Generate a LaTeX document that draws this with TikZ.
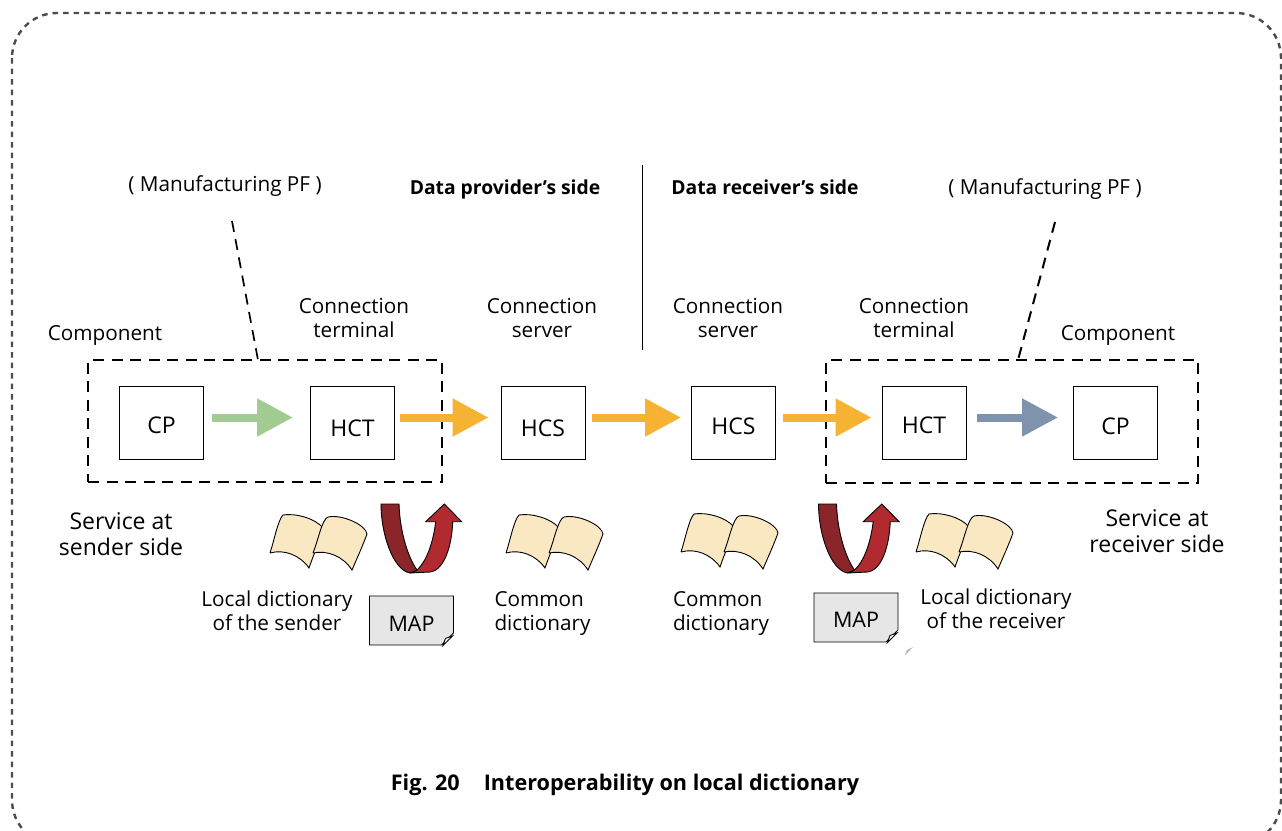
\documentclass[tikz,border=0pt]{standalone}
\usepackage{fontspec}
\setmainfont{Open Sans}
\usetikzlibrary{arrows.meta,shapes.misc}
\definecolor{pagecream}{HTML}{F9E8C2}
\definecolor{darkred}{HTML}{8A262A}
\definecolor{lightred}{HTML}{B02A30}
\definecolor{flowgreen}{HTML}{A2CB92}
\definecolor{floworange}{HTML}{F6B233}
\definecolor{flowblue}{HTML}{7F93AE}
\definecolor{mapgray}{HTML}{E6E6E6}
\tikzset{
    book/.pic={
        \draw[fill=pagecream,line width=.9pt] (0,0) .. controls (14,-4) and (30,2) .. (39,15)
            .. controls (43,3) and (49,-10) .. (53,-25) .. controls (45,-35) and (25,-40) .. (13,-38)
            .. controls (8,-33) and (4,-12) .. (0,0);
        \draw[fill=pagecream,line width=.9pt] (43,0) .. controls (57,-3) and (73,3) .. (82,17)
            .. controls (88,3) and (93,-8) .. (97,-19) .. controls (96,-28) and (72,-39) .. (58,-36)
            .. controls (52,-34) and (48,-12) .. (43,0);
    },
    uturn/.pic={
        \draw[fill=darkred,line width=.9pt] (0,0) -- (18,0) .. controls (19,30) and (28,55) .. (36,66)
            -- (29,69) .. controls (12,66) and (0,30) .. (0,0) -- cycle;
        \draw[fill=lightred,line width=.9pt] (29,69) -- (49,68) .. controls (64,66) and (71,40) .. (71.7,17.7)
            -- (80.7,17.7) -- (63.3,0) -- (44.7,17.7) -- (54.7,17.7) .. controls (52,40) and (45,58) .. (36,66)
            .. controls (34,68) and (31,69) .. (29,69) -- cycle;
    },
    fold/.pic={
        \draw[fill=white,line width=.9pt] (-9.5,0) -- (0,-9.5) -- (-7,-7) -- cycle;
    }
}
\begin{document}
\begin{tikzpicture}[x=1pt,y=-1pt,
    label node/.style={align=center,font=\fontsize{20.7}{24}\selectfont},
    left node/.style={align=left,font=\fontsize{20.7}{24}\selectfont},
    big node/.style={align=center,font=\fontsize{23}{26}\selectfont},
    bold node/.style={font=\fontsize{19.3}{24}\selectfont\bfseries},
    title node/.style={font=\fontsize{21.6}{24}\selectfont\bfseries},
    box/.style={draw,line width=.9pt,fill=white,minimum width=84pt,minimum height=73pt,inner sep=0pt,font=\fontsize{23}{24}\selectfont},
    dash box/.style={draw,line width=1.9pt,dash pattern=on 11pt off 7.5pt,inner sep=0pt},
    dash line/.style={line width=2pt,dash pattern=on 11pt off 7.5pt},
    map node/.style={chamfered rectangle,chamfered rectangle corners=south east,chamfered rectangle xsep=6pt,chamfered rectangle ysep=6pt,draw,line width=.9pt,fill=mapgray,minimum width=84pt,minimum height=49pt,inner sep=0pt,font=\fontsize{21.5}{24}\selectfont},
    flow/.style={line width=8pt,-{Triangle[length=36pt,width=36pt]},shorten <=8pt,shorten >=17pt}]
    \useasboundingbox (0,0) rectangle (1282,830);
    \draw[draw=black!70,line width=2.4pt,dash pattern=on 5.5pt off 5pt,rounded corners=45pt] (12,13) rectangle (1281,845);

    \node[dash box,minimum width=354pt,minimum height=122pt] at (265,421) (sender) {};
    \node[dash box,minimum width=372pt,minimum height=123pt] at (1012,421.5) (receiver) {};

    \node[box,text height=23pt] at (161.5,422.5) (cp1) {CP};
    \node[box,text height=29pt] at (352.5,422.5) (hct1) {HCT};
    \node[box,text height=29pt] at (543,422.5) (hcs1) {HCS};
    \node[box,text height=25pt] at (733.5,422.5) (hcs2) {HCS};
    \node[box,text height=23pt] at (924,422.5) (hct2) {HCT};
    \node[box,text height=25pt] at (1115.5,422.5) (cp2) {CP};

    \draw[flow,flowgreen] ([yshift=5pt]cp1.east) -- ([yshift=5pt]hct1.west);
    \draw[flow,floworange,shorten <=5pt,shorten >=12pt] ([yshift=5pt]hct1.east) -- ([yshift=5pt]hcs1.west);
    \draw[flow,floworange,shorten <=7pt,shorten >=10pt] ([yshift=5pt]hcs1.east) -- ([yshift=5pt]hcs2.west);
    \draw[flow,floworange,shorten <=7pt,shorten >=10pt] ([yshift=5pt]hcs2.east) -- ([yshift=5pt]hct2.west);
    \draw[flow,flowblue,shorten <=11pt,shorten >=15pt] ([yshift=5pt]hct2.east) -- ([yshift=5pt]cp2.west);

    \node[label node] at (225,186) (pf1) {( Manufacturing PF )};
    \node[label node] at (1045,189) (pf2) {( Manufacturing PF )};
    \node[bold node] at (505,189) (provider) {Data provider’s side};
    \node[bold node] at (765,187) (consumer) {Data receiver’s side};
    \node[label node] at (105,335.5) (comp1) {Component};
    \node[label node] at (1118,335.5) (comp2) {Component};
    \node[label node] at (354,318) (term1) {Connection\\terminal};
    \node[label node] at (542,318) (serv1) {Connection\\server};
    \node[label node] at (728,318) (serv2) {Connection\\server};
    \node[label node] at (914,318) (term2) {Connection\\terminal};
    \node[big node] at (121,534) (svc1) {Service at\\sender side};
    \node[big node] at (1157,531.5) (svc2) {Service at\\receiver side};
    \node[label node] at (277,611) (dict1) {Local dictionary\\of the sender};
    \node[left node] at (542.5,613) (dict2) {Common\\dictionary};
    \node[left node] at (721,613) (dict3) {Common\\dictionary};
    \node[label node] at (996,609) (dict4) {Local dictionary\\of the receiver};
    \node[title node] at (625,785) (caption) {Fig. 20\hspace{24pt}Interoperability on local dictionary};

    \coordinate (pf1 end) at (232,221);
    \coordinate (sender top) at (258,360);
    \coordinate (pf2 end) at (1055,222);
    \coordinate (receiver top) at (1018,360);
    \coordinate (divide top) at (642.5,165);
    \coordinate (divide end) at (642.5,350);
    \draw[dash line,line width=1.7pt] (pf1 end) -- (sender top);
    \draw[dash line] (pf2 end) -- (receiver top);
    \draw[line width=1pt] (divide top) -- (divide end);

    \pic at (270,553) {book};
    \pic at (506,553) {book};
    \pic at (681,552) {book};
    \pic at (916,552) {book};
    \pic at (381,504) {uturn};
    \pic at (818.5,504) {uturn};

    \node[map node,text height=22pt] at (411.5,620.5) (map1) {MAP};
    \node[map node,text height=20pt] at (856,617.5) (map2) {MAP};
    \pic at ([xshift=-1.5pt]map1.east |- map1.south) {fold};
    \pic at ([xshift=-1.5pt]map2.east |- map2.south) {fold};
    \fill[black!30] (905,655) -- (913,647) -- (907,650) -- cycle;
\end{tikzpicture}
\end{document}
